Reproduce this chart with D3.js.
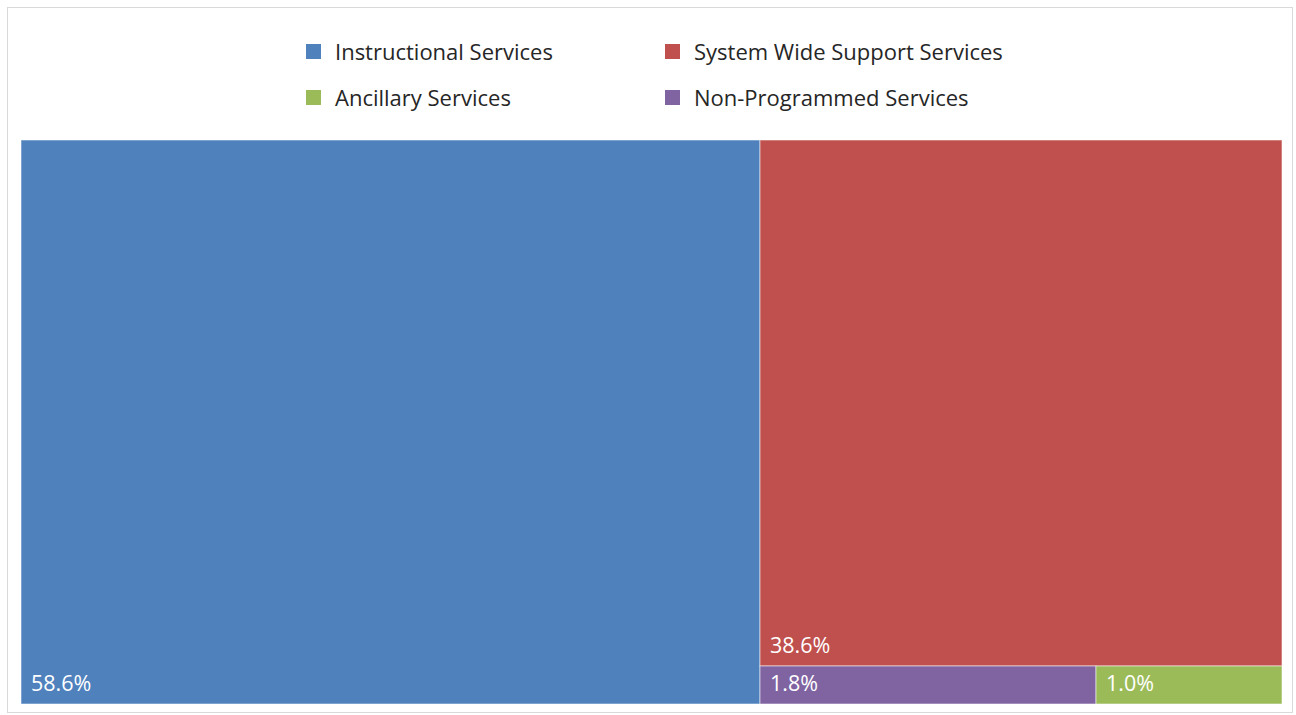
<!DOCTYPE html>
<html>
<head>
<meta charset="utf-8">
<script src="https://cdn.jsdelivr.net/npm/d3@7"></script>
<style>
  html, body { margin: 0; padding: 0; background: #fff; }
  svg { display: block; font-family: "Open Sans", "Liberation Sans", sans-serif; }
</style>
</head>
<body>
<svg id="chart" width="1296" height="715"></svg>
<script>
// categories and their shares (percent of total)
const categories = ['Instructional Services', 'System Wide Support Services', 'Ancillary Services', 'Non-Programmed Services'];
const shares = [58.6, 38.6, 1.0, 1.8];
const colors = ['#4f81bd', '#c0504d', '#9bbb59', '#8064a2'];

const width = 1296, height = 715;
const plot = { x0: 21, y0: 140, x1: 1282, y1: 704 };

const svg = d3.select('#chart');

// outer frame
svg.append('rect')
  .attr('x', 7.5).attr('y', 7.5)
  .attr('width', 1285).attr('height', 705)
  .attr('fill', '#fff')
  .attr('stroke', '#d9d9d9')
  .attr('stroke-width', 1);

const color = d3.scaleOrdinal().domain(categories).range(colors);

// --- treemap ---
const root = d3.hierarchy({ children: categories.map((c, i) => ({ name: c, value: shares[i] })) })
  .sum(d => d.value || 0)
  .sort((a, b) => b.value - a.value);

d3.treemap()
  .tile(d3.treemapSquarify)
  .size([plot.x1 - plot.x0, plot.y1 - plot.y0])
  .round(true)(root);

const cells = svg.append('g')
  .attr('transform', `translate(${plot.x0},${plot.y0})`)
  .selectAll('g')
  .data(root.leaves())
  .join('g')
    .attr('transform', d => `translate(${d.x0},${d.y0})`);

cells.append('rect')
  .attr('width', d => d.x1 - d.x0)
  .attr('height', d => d.y1 - d.y0)
  .attr('fill', d => color(d.data.name))
  .attr('stroke', 'rgba(255,255,255,0.55)')
  .attr('stroke-width', 1);

cells.append('text')
  .attr('x', 10)
  .attr('y', d => d.y1 - d.y0 - 13)
  .attr('fill', '#fff')
  .style('font-size', '21.5px')
  .text(d => d.data.value.toFixed(1) + '%');

// --- legend (2 x 2) ---
const legendPos = [[306, 44], [665, 44], [306, 90], [665, 90]];
const legend = svg.append('g')
  .selectAll('g')
  .data(categories)
  .join('g')
    .attr('transform', (d, i) => `translate(${legendPos[i][0]},${legendPos[i][1]})`);

legend.append('rect')
  .attr('width', 15).attr('height', 15)
  .attr('fill', d => color(d));

legend.append('text')
  .attr('x', 29)
  .attr('y', 16)
  .attr('fill', '#262626')
  .style('font-size', '22px')
  .text(d => d);
</script>
</body>
</html>
